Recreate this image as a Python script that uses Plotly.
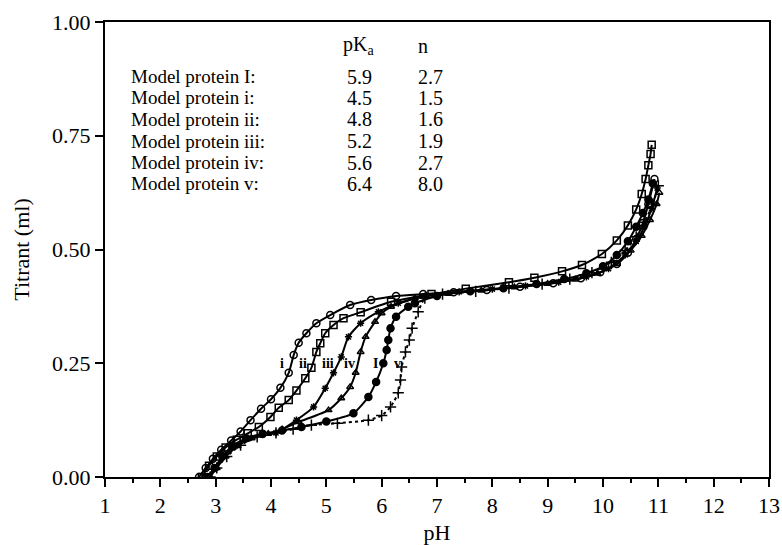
import plotly.graph_objects as go

# ---- data ----
ph_i = [2.70, 2.82, 2.95, 3.10, 3.28, 3.45, 3.63, 3.82, 4.00, 4.17, 4.32, 4.41, 4.50, 4.64, 4.82, 5.07, 5.43, 5.81, 6.26, 6.75, 7.3, 7.9, 8.5, 9.1, 9.6, 9.95, 10.25, 10.45, 10.6, 10.72, 10.82, 10.93]
t_i = [0.00, 0.02, 0.04, 0.06, 0.08, 0.10, 0.125, 0.15, 0.171, 0.196, 0.229, 0.268, 0.295, 0.316, 0.338, 0.356, 0.378, 0.389, 0.398, 0.402, 0.406, 0.411, 0.418, 0.426, 0.437, 0.45, 0.468, 0.493, 0.523, 0.558, 0.6, 0.655]

ph_ii = [2.75, 2.88, 3.02, 3.18, 3.38, 3.58, 3.78, 3.99, 4.14, 4.32, 4.46, 4.62, 4.73, 4.82, 4.89, 4.98, 5.13, 5.31, 5.62, 6.17, 6.9, 7.52, 8.3, 8.76, 9.26, 9.62, 9.98, 10.25, 10.45, 10.6, 10.7, 10.77, 10.82, 10.86, 10.88]
t_ii = [0.00, 0.025, 0.045, 0.065, 0.082, 0.096, 0.11, 0.132, 0.152, 0.169, 0.19, 0.217, 0.24, 0.275, 0.294, 0.316, 0.334, 0.349, 0.362, 0.385, 0.402, 0.414, 0.428, 0.438, 0.452, 0.466, 0.49, 0.52, 0.553, 0.588, 0.622, 0.655, 0.685, 0.71, 0.73]

ph_iii = [2.88, 3.0, 3.15, 3.35, 3.6, 3.85, 4.09, 4.46, 4.77, 4.98, 5.13, 5.27, 5.40, 5.62, 5.94, 6.3, 6.8, 7.4, 8.0, 8.6, 9.2, 9.7, 10.1, 10.4, 10.6, 10.75, 10.88, 10.98]
t_iii = [0.0, 0.02, 0.045, 0.068, 0.085, 0.093, 0.097, 0.125, 0.154, 0.195, 0.229, 0.264, 0.308, 0.338, 0.363, 0.382, 0.398, 0.407, 0.413, 0.42, 0.428, 0.44, 0.458, 0.488, 0.518, 0.55, 0.59, 0.635]

ph_iv = [2.9, 3.02, 3.18, 3.4, 3.65, 3.95, 4.2, 4.5, 5.04, 5.27, 5.43, 5.53, 5.62, 5.71, 5.88, 6.0, 6.17, 6.6, 7.2, 7.8, 8.4, 9.0, 9.5, 9.9, 10.25, 10.5, 10.7, 10.85, 10.97, 11.02]
t_iv = [0.0, 0.02, 0.045, 0.068, 0.085, 0.095, 0.105, 0.121, 0.147, 0.173, 0.198, 0.229, 0.275, 0.308, 0.341, 0.36, 0.374, 0.393, 0.403, 0.41, 0.417, 0.425, 0.434, 0.447, 0.468, 0.498, 0.53, 0.565, 0.6, 0.625]

ph_I = [2.85, 2.98, 3.12, 3.3, 3.55, 3.85, 4.2, 4.55, 5.0, 5.49, 5.76, 5.90, 6.03, 6.09, 6.12, 6.16, 6.26, 6.48, 6.6, 7.0, 7.6, 8.2, 8.8, 9.3, 9.7, 10.0, 10.25, 10.45, 10.6, 10.72, 10.82, 10.9]
t_I = [0.0, 0.02, 0.045, 0.068, 0.085, 0.095, 0.102, 0.11, 0.122, 0.14, 0.176, 0.209, 0.25, 0.279, 0.301, 0.327, 0.352, 0.374, 0.382, 0.398, 0.408, 0.415, 0.424, 0.435, 0.448, 0.463, 0.488, 0.518, 0.55, 0.58, 0.61, 0.645]

ph_v = [2.9, 3.02, 3.2, 3.45, 3.75, 4.09, 4.4, 4.73, 5.2, 5.76, 6.0, 6.16, 6.30, 6.34, 6.36, 6.43, 6.50, 6.55, 6.66, 6.78, 7.1, 7.7, 8.3, 8.9, 9.4, 9.8, 10.15, 10.4, 10.6, 10.75, 10.9, 11.0]
t_v = [0.0, 0.02, 0.045, 0.07, 0.088, 0.097, 0.105, 0.114, 0.118, 0.125, 0.135, 0.154, 0.185, 0.213, 0.242, 0.275, 0.301, 0.327, 0.363, 0.393, 0.402, 0.408, 0.415, 0.424, 0.435, 0.449, 0.472, 0.498, 0.528, 0.56, 0.6, 0.64]

proteins = ["I", "i", "ii", "iii", "iv", "v"]
pka_vals = ["5.9", "4.5", "4.8", "5.2", "5.6", "6.4"]
n_vals = ["2.7", "1.5", "1.6", "1.9", "2.7", "8.0"]

curve_labels = ["i", "ii", "iii", "iv", "I", "v"]
curve_label_ph = [4.2, 4.57, 5.03, 5.42, 5.88, 6.28]
curve_label_t = 0.25

x_ticks = list(range(1, 14))
y_ticks = [0.0, 0.25, 0.5, 0.75, 1.0]

FONT = "Liberation Serif"

fig = go.Figure()

series = [
    (ph_i, t_i, "circle-open", 7, "solid"),
    (ph_ii, t_ii, "square-open", 7, "solid"),
    (ph_iii, t_iii, "asterisk-open", 6, "solid"),
    (ph_iv, t_iv, "triangle-up-open", 6, "solid"),
    (ph_I, t_I, "circle", 7, "solid"),
    (ph_v, t_v, "cross-thin-open", 8, "dot"),
]
for xs, ys, sym, sz, dash in series:
    fig.add_trace(go.Scatter(
        x=xs, y=ys, mode="lines+markers",
        line=dict(color="black", width=2, shape="spline", smoothing=0.6, dash=dash),
        marker=dict(symbol=sym, size=sz, color="black",
                    line=dict(color="black", width=1.5)),
        showlegend=False, hoverinfo="skip",
    ))

# text table
row_t = [0.880, 0.833, 0.786, 0.738, 0.691, 0.644]
ann = []
ann.append(dict(x=5.58, y=0.948, text="pK<sub>a</sub>", xanchor="center", yanchor="middle", size=20))
ann.append(dict(x=6.75, y=0.948, text="n", xanchor="center", yanchor="middle", size=20))
for p, pk, nv, yy in zip(proteins, pka_vals, n_vals, row_t):
    ann.append(dict(x=1.44, y=yy, text=f"Model protein {p}:", xanchor="left", yanchor="middle", size=19))
    ann.append(dict(x=5.6, y=yy, text=pk, xanchor="center", yanchor="middle", size=20))
    ann.append(dict(x=6.88, y=yy, text=nv, xanchor="center", yanchor="middle", size=20))
for a in ann:
    sz = a.pop("size")
    a.update(xref="x", yref="y", showarrow=False, font=dict(family=FONT, size=sz, color="black"))
    fig.add_annotation(**a)

for lab, xp in zip(curve_labels, curve_label_ph):
    fig.add_annotation(x=xp, y=curve_label_t, xref="x", yref="y", text=f"<b>{lab}</b>",
                       showarrow=False, xanchor="center", yanchor="middle",
                       font=dict(family=FONT, size=14, color="black"))

fig.update_layout(
    width=782, height=545,
    margin=dict(l=105, r=13, t=22, b=68),
    paper_bgcolor="white", plot_bgcolor="white",
    font=dict(family=FONT, size=22, color="black"),
)
fig.update_xaxes(
    range=[1, 13], tickmode="array", tickvals=x_ticks, ticktext=[str(v) for v in x_ticks],
    ticks="outside", ticklen=8, tickwidth=2, tickcolor="black",
    minor=dict(ticks="outside", ticklen=4, tickwidth=2, tickcolor="black", dtick=0.5),
    showline=True, linecolor="black", linewidth=2, mirror=True, showgrid=False, zeroline=False,
    automargin=False,
    title=dict(text="pH", font=dict(family=FONT, size=22), standoff=14),
    tickfont=dict(family=FONT, size=22),
)
fig.update_yaxes(
    range=[0, 1], tickmode="array", tickvals=y_ticks, ticktext=[f"{v:.2f}" for v in y_ticks],
    ticks="outside", ticklen=8, tickwidth=2, tickcolor="black",
    showline=True, linecolor="black", linewidth=2, mirror=True, showgrid=False, zeroline=False,
    automargin=False,
    title=dict(text="Titrant (ml)", font=dict(family=FONT, size=22), standoff=16),
    tickfont=dict(family=FONT, size=22),
)

fig.write_html("out.html")
